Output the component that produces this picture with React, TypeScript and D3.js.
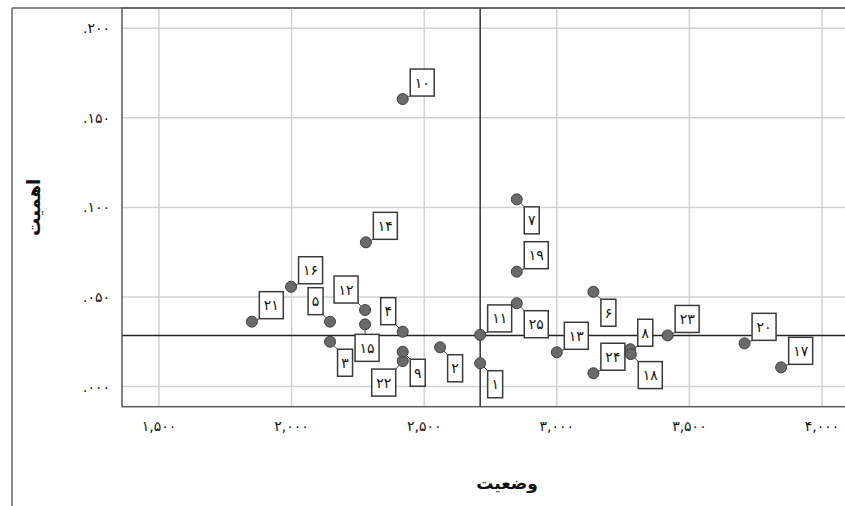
import React from 'react';
import { scaleLinear } from 'd3';

// case numbers, وضعیت (x) and اهمیت (y)
const caseIds = [21, 16, 5, 12, 15, 3, 4, 22, 9, 2, 10, 14, 11, 1, 7, 19, 25, 13, 6, 24, 8, 18, 23, 20, 17];
const statusValues = [
  1.85, 1.998, 2.145, 2.277, 2.277, 2.145, 2.419, 2.419, 2.419, 2.56, 2.419, 2.28, 2.711,
  2.711, 2.849, 2.849, 2.849, 3.0, 3.138, 3.138, 3.277, 3.279, 3.418, 3.708, 3.846
];
const importanceValues = [
  0.0362, 0.0557, 0.0362, 0.0427, 0.0347, 0.025, 0.0306, 0.0142, 0.0194, 0.0219, 0.1605, 0.0805,
  0.0288, 0.013, 0.1045, 0.0641, 0.0465, 0.0191, 0.0529, 0.0074, 0.0208, 0.0181, 0.0285, 0.0241,
  0.0107
];
const xTicks = [1.5, 2.0, 2.5, 3.0, 3.5, 4.0];
const yTicks = [0, 0.05, 0.1, 0.15, 0.2];
const refX = 2.711;
const refY = 0.0285;
const xTitle = 'وضعیت';
const yTitle = 'اهمیت';

// where each case label sits relative to its point
const labelSide: Record<number, string> = {
  5: 'ul', 12: 'ul', 4: 'ul', 22: 'dl', 15: 'b',
  3: 'dr', 9: 'dr', 2: 'dr', 1: 'dr', 7: 'dr', 25: 'dr', 6: 'dr', 18: 'dr'
};

const faDigits = '۰۱۲۳۴۵۶۷۸۹';
const toFa = (s: string) => s.replace(/[0-9]/g, d => faDigits[+d]);
const fmtY = (v: number) => toFa(v.toFixed(3).replace(/^0/, ''));
const fmtX = (v: number) => toFa(v.toFixed(3).replace('.', ','));

const W = 845;
const H = 506;
const plot = { left: 122, top: 8, right: 852, bottom: 406.7 };
const font = '"DejaVu Sans", sans-serif';

const App = () => {
  const xScale = scaleLinear().domain([1.5, 4.0]).range([159, 822]);
  const yScale = scaleLinear().domain([0, 0.2]).range([386.5, 28.3]);

  const points = caseIds.map((id, i) => {
    const px = xScale(statusValues[i]);
    const py = yScale(importanceValues[i]);
    const bw = id > 9 ? 24 : 15;
    const bh = 27;
    const side = labelSide[id] || 'ur';
    let bx = px + 7.5;
    let by = py - 3 - bh;
    let cx = bx;
    let cy = by + bh;
    if (side === 'dr') {
      by = py + 7.5;
      cy = by;
    } else if (side === 'ul') {
      bx = px - 7 - bw;
      by = py - 7 - bh;
      cx = bx + bw;
      cy = by + bh;
    } else if (side === 'dl') {
      bx = px - 7 - bw;
      by = py + 8;
      cx = bx + bw;
      cy = by;
    } else if (side === 'b') {
      bx = px + 2 - bw / 2;
      by = py + 10;
      cx = px;
      cy = by;
    }
    return { id, px, py, bx, by, bw, bh, cx, cy };
  });

  return (
    <div style={{ position: 'fixed', left: 0, top: 0 }}>
      <svg width={W} height={H} style={{ display: 'block', background: '#fff' }}>
        {/* outer frame */}
        <line x1={12} y1={8} x2={12} y2={H} stroke="#8a8a8a" strokeWidth={2} />
        <line x1={12} y1={8} x2={W} y2={8} stroke="#8a8a8a" strokeWidth={2} />

        {/* gridlines */}
        <g stroke="#d2d2d2" strokeWidth={1.5}>
          {xTicks.map(t => (
            <line key={'gx' + t} x1={xScale(t)} x2={xScale(t)} y1={plot.top} y2={plot.bottom} />
          ))}
          {yTicks.map(t => (
            <line key={'gy' + t} x1={plot.left} x2={plot.right} y1={yScale(t)} y2={yScale(t)} />
          ))}
        </g>

        {/* reference lines */}
        <line x1={xScale(refX)} x2={xScale(refX)} y1={plot.top} y2={plot.bottom} stroke="#222" strokeWidth={1.4} />
        <line x1={plot.left} x2={plot.right} y1={yScale(refY)} y2={yScale(refY)} stroke="#222" strokeWidth={1.4} />

        {/* plot border */}
        <rect
          x={plot.left}
          y={plot.top}
          width={plot.right - plot.left}
          height={plot.bottom - plot.top}
          fill="none"
          stroke="#5a5a5a"
          strokeWidth={1.5}
        />

        {/* connectors, points, labels */}
        {points.map(p => (
          <line key={'c' + p.id} x1={p.px} y1={p.py} x2={p.cx} y2={p.cy} stroke="#444" strokeWidth={1} />
        ))}
        {points.map(p => (
          <circle key={'p' + p.id} cx={p.px} cy={p.py} r={5.5} fill="#6a6a6a" stroke="#3f3f3f" strokeWidth={1} />
        ))}
        {points.map(p => (
          <g key={'l' + p.id}>
            <rect x={p.bx} y={p.by} width={p.bw} height={p.bh} fill="#fff" stroke="#3a3a3a" strokeWidth={1.5} />
            <text
              x={p.bx + p.bw / 2}
              y={p.by + p.bh / 2}
              textAnchor="middle"
              dominantBaseline="central"
              fontFamily={font}
              fontSize={14}
              fill="#111"
              direction="ltr"
            >
              {toFa(String(p.id))}
            </text>
          </g>
        ))}

        {/* y tick labels */}
        {yTicks.map(t => (
          <text
            key={'ty' + t}
            x={110}
            y={yScale(t)}
            textAnchor="end"
            dominantBaseline="central"
            fontFamily={font}
            fontSize={14}
            fill="#111"
            direction="ltr"
          >
            {fmtY(t)}
          </text>
        ))}

        {/* x tick labels */}
        {xTicks.map(t => (
          <text
            key={'tx' + t}
            x={xScale(t)}
            y={426}
            textAnchor="middle"
            dominantBaseline="central"
            fontFamily={font}
            fontSize={14}
            fill="#111"
            direction="ltr"
          >
            {fmtX(t)}
          </text>
        ))}

        {/* axis titles */}
        <text
          x={507}
          y={483}
          textAnchor="middle"
          dominantBaseline="central"
          fontFamily={font}
          fontWeight="bold"
          fontSize={17}
          fill="#111"
        >
          {xTitle}
        </text>
        <text
          transform={`translate(33, ${(plot.top + plot.bottom) / 2}) rotate(-90)`}
          textAnchor="middle"
          dominantBaseline="central"
          fontFamily={font}
          fontWeight="bold"
          fontSize={18}
          fill="#111"
        >
          {yTitle}
        </text>
      </svg>
    </div>
  );
};

export default App;
